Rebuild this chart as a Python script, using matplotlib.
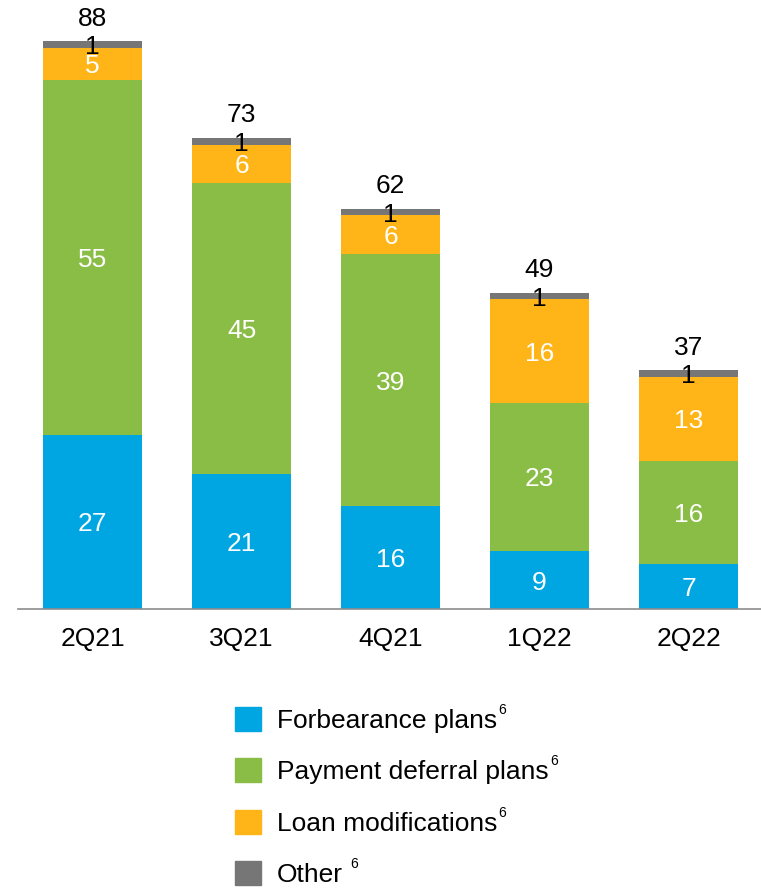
import matplotlib.pyplot as plt
import numpy as np
from matplotlib.patches import Patch

plt.rcParams['font.family'] = ['Liberation Sans', 'DejaVu Sans']

quarters = ['2Q21', '3Q21', '4Q21', '1Q22', '2Q22']
forbearance = [27, 21, 16, 9, 7]
deferral = [55, 45, 39, 23, 16]
loan_mods = [5, 6, 6, 16, 13]
other = [1, 1, 1, 1, 1]
totals = [88, 73, 62, 49, 37]

series = [forbearance, deferral, loan_mods, other]
colors = ['#00A6E1', '#8ABD45', '#FFB517', '#767676']
names = ['Forbearance plans', 'Payment deferral plans',
         'Loan modifications', 'Other']
footnote = '6'

fig = plt.figure(figsize=(7.61, 8.88), dpi=100)
ax = fig.add_axes([18/761, (888-609)/888, 745/761, 609/888])

x = np.arange(len(quarters))
bottom = np.zeros(len(quarters))
fs = 19
for i, (vals, c) in enumerate(zip(series, colors)):
    vals = np.array(vals)
    ax.bar(x, vals, 0.67, bottom=bottom, color=c, label=names[i])
    for xi, b, v in zip(x, bottom, vals):
        if i < 3:
            ax.text(xi, b + v/2 - 0.4, str(v), ha='center', va='center',
                    color='white', fontsize=fs)
        else:
            ax.text(xi, b + v/2 - 0.4, str(v), ha='center', va='center',
                    color='black', fontsize=fs)
    bottom += vals

for xi, t in zip(x, totals):
    ax.text(xi, t + 3.5, str(t), ha='center', va='center', fontsize=fs)

ax.set_xlim(-0.5, 4.5)
ax.set_ylim(0, 94.4)
ax.set_xticks(x)
ax.set_xticklabels(quarters, fontsize=fs)
ax.tick_params(axis='x', length=0, pad=13)
ax.set_yticks([])
for s in ['top', 'right', 'left']:
    ax.spines[s].set_visible(False)
ax.spines['bottom'].set_color('#8C8C8C')
ax.spines['bottom'].set_linewidth(1.2)

handles = [Patch(color=c) for c in colors]
leg = fig.legend(handles, names, loc='upper left',
                 bbox_to_anchor=(235/761, 1 - 707/888), frameon=False,
                 fontsize=fs, handlelength=1.0, handleheight=1.0,
                 handletextpad=0.6, labelspacing=0.97, borderpad=0,
                 borderaxespad=0)

# superscript footnote marks after each legend label
fig.canvas.draw()
r = fig.canvas.get_renderer()
inv = fig.transFigure.inverted()
for j, t in enumerate(leg.get_texts()):
    bb = t.get_window_extent(r)
    gap = 7 if j == 3 else 1
    x0, y0 = inv.transform((bb.x1 + gap, bb.y1 + 6))
    fig.text(x0, y0, footnote, fontsize=10, ha='left', va='top')

fig.savefig('out.png', dpi=100)
